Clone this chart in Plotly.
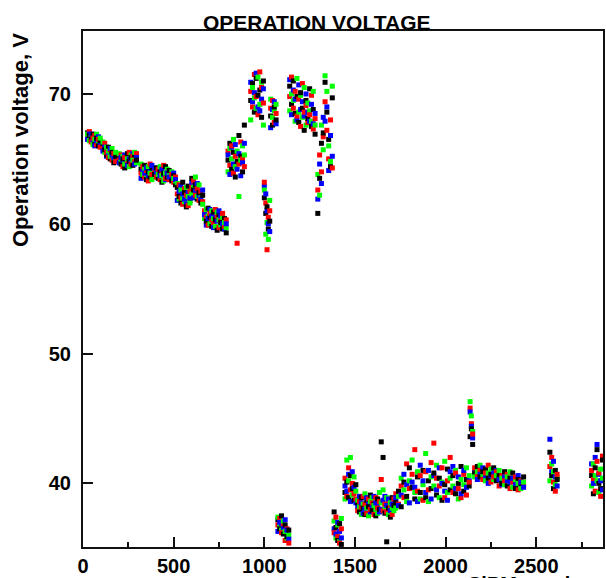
import plotly.graph_objects as go

# SiPM index and measured operation voltage (V) for the four channels
sipm_id = [
    25, 35, 45, 55, 65, 75, 85, 95,
    110, 120, 130, 140, 150, 160, 170, 180,
    200, 210, 220, 230, 245, 255, 265, 275, 285, 295,
    320, 330, 340, 350, 360, 370, 380,
    395, 405, 415, 425, 435, 445, 455, 465, 475, 490, 500, 510,
    520, 530, 540, 550, 560, 570, 580, 590,
    600, 610, 620, 630, 640, 650, 660,
    670, 680, 690, 700, 710, 720, 730, 740, 750, 760, 770, 780, 790,
    800, 810, 820, 830, 840, 850, 860, 870, 880, 890,
    925, 935, 945, 955, 965, 975, 985, 995,
    1000, 1008, 1015, 1022, 1030,
    1035, 1045, 1055, 1065,
    1075, 1085, 1095, 1105, 1115, 1125, 1135,
    1140, 1150, 1160, 1170, 1180, 1190, 1200, 1210, 1220, 1230, 1240, 1250, 1260, 1270, 1280,
    1295, 1305, 1315, 1325, 1335, 1345, 1355, 1365, 1375,
    1385, 1395, 1405, 1415, 1425,
    1445, 1455, 1465, 1475, 1485, 1495, 1505,
    1515, 1525, 1535, 1545, 1555, 1565, 1575, 1585, 1595, 1605, 1615, 1625, 1635, 1645, 1655,
    1665, 1675, 1685, 1695, 1705, 1715,
    1725, 1740, 1755, 1770, 1785, 1800, 1815, 1830, 1845, 1860, 1875, 1890, 1905, 1920,
    1935, 1950, 1965, 1980, 1995, 2010, 2025, 2040, 2055, 2070, 2085, 2100, 2115, 2130,
    2135, 2142, 2149,
    2160, 2175, 2190, 2205, 2220, 2235, 2250, 2265, 2280, 2295, 2310, 2325, 2340, 2355,
    2370, 2385, 2400, 2415, 2430,
    2575, 2585, 2595, 2605, 2615,
    2805, 2815, 2825, 2835, 2845, 2855, 2865,
]

v_black = [
    67.0, 66.8, 66.5, 66.9, 66.2, 66.6, 66.0, 66.4,
    66.1, 65.7, 65.3, 65.9, 65.0, 65.5, 64.7, 65.2,
    65.2, 64.6, 65.0, 64.3, 65.4, 64.8, 65.1, 64.5, 65.3, 64.9,
    64.2, 63.7, 64.5, 63.4, 64.0, 63.6, 64.3,
    63.8, 64.3, 63.5, 64.0, 63.2, 63.9, 64.4, 63.6, 64.1, 63.3, 63.7, 63.0,
    62.8, 62.1, 61.6, 63.2, 62.4, 61.3, 62.9, 61.8,
    63.5, 62.6, 63.0, 61.9, 62.4, 61.6, 62.2,
    60.8, 60.2, 61.2, 60.5, 59.8, 60.9, 60.3, 59.5, 60.7, 60.1, 59.6, 60.4, 59.3,
    64.9, 66.2, 64.2, 65.5, 63.6, 64.8, 66.8, 65.2, 64.0, 67.6,
    69.5, 70.8, 68.6, 71.2, 69.9, 70.3, 68.2, 71.0,
    62.0, 60.8, 61.3, 59.6, 60.2,
    68.3, 67.6, 69.0, 68.0,
    37.2, 36.5, 37.5, 36.1, 36.8, 35.9, 36.4,
    70.6, 69.2, 71.0, 68.5, 69.8, 67.8, 70.1, 68.9, 67.2, 69.5, 68.1, 70.4, 67.5, 68.8, 66.9,
    60.8, 63.5, 66.2, 67.0, 70.9, 68.6, 66.5, 64.4, 69.7,
    37.8, 36.6, 35.6, 36.9, 35.3,
    39.3, 40.1, 38.9, 40.6, 39.6, 38.7, 39.9,
    38.5, 37.8, 38.9, 38.1, 37.6, 38.7, 38.2, 39.1, 37.9, 38.4, 37.5, 38.8, 38.0, 43.2, 42.0,
    37.7, 35.5, 38.1, 37.4, 38.9, 38.3,
    38.6, 39.4, 38.2, 40.1, 39.0, 41.2, 39.7, 38.8, 40.5, 39.3, 41.0, 38.9, 40.2, 39.6,
    40.8, 39.1, 40.4, 38.7, 39.9, 41.1, 39.5, 40.6, 39.2, 40.0, 41.3, 39.4, 40.3, 39.8,
    43.6, 44.2, 43.0,
    40.8, 41.3, 40.5, 40.9, 41.1, 40.4, 40.7, 41.2, 40.2, 40.6, 40.0, 40.9, 39.8, 40.4,
    40.8, 39.6, 40.3, 39.9, 40.5,
    42.4, 40.6, 39.6, 41.0, 40.3,
    40.6, 39.2, 41.2, 42.6, 40.0, 39.6, 41.8,
]

v_red = [
    66.7, 67.1, 66.3, 66.6, 66.8, 66.1, 66.5, 65.9,
    65.8, 66.2, 65.5, 65.1, 65.7, 64.9, 65.4, 64.8,
    64.9, 65.3, 64.4, 65.1, 64.7, 65.5, 64.6, 65.2, 64.8, 65.4,
    63.9, 64.4, 63.6, 64.1, 63.3, 64.6, 63.8,
    64.1, 63.6, 64.2, 63.4, 63.9, 64.5, 63.5, 64.0, 63.4, 63.8, 63.2, 63.6,
    62.3, 63.0, 62.0, 61.5, 62.7, 62.2, 61.4, 62.5,
    62.9, 63.3, 62.2, 62.7, 61.8, 62.5, 61.7,
    61.0, 60.5, 59.9, 60.8, 60.3, 60.0, 61.1, 60.6, 59.7, 60.2, 60.8, 59.8, 60.3,
    65.6, 64.5, 66.0, 63.9, 65.2, 58.5, 64.6, 66.3, 65.0, 64.4,
    70.2, 69.0, 71.5, 69.8, 68.4, 71.7, 70.5, 69.3,
    63.2, 61.6, 58.0, 60.5, 61.0,
    68.9, 69.5, 67.8, 68.5,
    36.8, 37.3, 36.2, 36.9, 35.6, 36.5, 35.4,
    69.8, 71.3, 68.9, 70.2, 68.3, 69.6, 67.5, 70.8, 68.6, 69.1, 67.8, 68.4, 69.9, 67.3, 68.1,
    62.6, 65.3, 64.0, 66.7, 69.4, 67.2, 65.0, 68.0, 64.3,
    36.2, 37.4, 35.9, 35.4, 36.5,
    40.4, 39.0, 41.2, 39.5, 40.0, 39.2, 38.8,
    37.9, 38.6, 38.2, 39.0, 38.4, 37.7, 38.8, 38.0, 38.5, 37.6, 38.9, 38.1, 38.6, 40.3, 37.9,
    38.4, 37.8, 38.7, 38.2, 37.6, 38.8,
    39.2, 38.4, 39.8, 38.9, 41.5, 39.6, 40.7, 42.6, 39.4, 40.6, 38.7, 40.9, 39.5, 41.6,
    43.1, 40.4, 39.8, 41.2, 38.9, 40.2, 42.0, 39.3, 40.8, 39.6, 38.9, 40.7, 39.1, 40.1,
    45.8, 44.6, 43.8,
    41.2, 40.6, 41.0, 40.3, 40.8, 41.4, 40.1, 40.5, 40.9, 39.8, 40.6, 40.2, 40.7, 39.6,
    40.1, 40.5, 39.5, 40.2, 39.8,
    41.3, 42.0, 40.1, 39.4, 40.7,
    41.0, 40.3, 39.4, 41.7, 40.8, 39.0, 42.1,
]

v_green = [
    66.9, 66.4, 66.7, 66.1, 66.5, 66.9, 66.3, 66.6,
    66.3, 65.5, 65.9, 65.6, 65.2, 65.8, 65.0, 65.5,
    65.4, 64.8, 65.2, 64.6, 65.0, 64.4, 65.3, 64.9, 65.5, 64.7,
    64.6, 63.8, 64.2, 63.5, 64.4, 63.9, 63.4,
    63.6, 64.0, 63.8, 64.4, 63.7, 63.3, 63.9, 64.2, 63.7, 64.0, 63.5, 63.3,
    63.1, 61.9, 62.6, 62.0, 61.7, 62.8, 62.1, 61.6,
    62.3, 62.8, 63.6, 62.1, 63.0, 62.0, 61.5,
    60.4, 61.1, 60.6, 60.0, 61.0, 60.4, 59.8, 60.9, 60.3, 59.9, 60.5, 60.1, 59.7,
    64.0, 65.8, 65.0, 66.5, 64.4, 65.6, 62.1, 64.9, 66.0, 65.3,
    68.0, 70.5, 69.7, 68.9, 71.3, 69.2, 70.9, 67.6,
    62.6, 59.2, 60.1, 58.8, 61.8,
    69.6, 68.2, 68.7, 69.2,
    37.4, 36.7, 36.4, 37.1, 36.3, 35.8, 36.0,
    68.7, 70.0, 69.5, 67.9, 71.2, 68.6, 69.9, 68.2, 70.5, 67.6, 69.3, 68.7, 67.9, 70.2, 67.6,
    63.8, 62.2, 67.6, 65.7, 71.4, 70.2, 66.0, 64.8, 70.6,
    37.1, 35.8, 36.8, 35.5, 37.3,
    38.8, 41.8, 40.2, 42.0, 39.1, 40.5, 39.4,
    38.7, 38.2, 37.6, 38.4, 39.2, 38.1, 37.5, 38.6, 38.9, 38.3, 38.0, 37.7, 39.3, 38.5, 39.5,
    38.2, 38.9, 37.6, 38.5, 38.1, 37.9,
    38.1, 39.0, 40.4, 39.5, 38.6, 40.2, 41.8, 39.3, 40.9, 38.8, 39.9, 42.3, 38.6, 40.5,
    39.8, 41.4, 38.9, 40.1, 41.7, 39.3, 40.4, 39.8, 41.0, 38.8, 40.3, 39.9, 41.2, 40.6,
    46.3, 45.2, 44.0,
    40.5, 40.9, 41.4, 40.7, 40.2, 40.8, 41.1, 40.3, 40.6, 41.0, 40.4, 39.9, 40.5, 40.9,
    39.7, 40.3, 40.0, 39.6, 40.1,
    40.2, 41.5, 40.9, 39.9, 40.4,
    39.8, 41.5, 40.6, 40.2, 39.3, 41.1, 40.4,
]

v_blue = [
    66.5, 66.9, 66.9, 66.4, 66.0, 66.4, 66.7, 66.2,
    65.6, 65.9, 65.2, 65.4, 65.8, 65.3, 65.1, 64.9,
    64.7, 65.1, 64.9, 65.3, 64.5, 65.0, 64.8, 65.4, 64.6, 65.1,
    63.5, 64.1, 63.9, 64.3, 63.7, 64.0, 64.5,
    64.3, 63.9, 64.1, 63.7, 64.2, 63.8, 63.4, 63.9, 63.6, 63.5, 63.9, 63.4,
    61.8, 62.5, 62.9, 62.3, 61.9, 61.5, 62.4, 62.0,
    63.2, 62.0, 62.5, 63.1, 62.2, 61.9, 62.6,
    60.7, 59.9, 60.4, 61.1, 60.6, 59.7, 60.5, 60.2, 61.0, 60.6, 60.0, 59.6, 60.0,
    65.3, 63.8, 65.9, 64.6, 66.1, 64.2, 65.4, 63.7, 64.7, 66.2,
    70.9, 69.4, 70.1, 71.6, 69.0, 68.7, 69.6, 70.4,
    62.9, 62.3, 61.0, 60.0, 59.4,
    67.4, 68.8, 69.4, 67.7,
    36.3, 37.0, 36.9, 36.6, 37.2, 36.4, 35.7,
    71.1, 68.4, 70.3, 69.6, 68.0, 70.7, 68.8, 69.4, 68.3, 70.0, 68.6, 67.9, 69.2, 67.7, 68.5,
    61.9, 64.6, 63.1, 68.2, 67.9, 69.0, 64.1, 66.8, 65.2,
    36.5, 36.1, 37.0, 36.3, 35.8,
    39.8, 39.4, 40.7, 38.6, 40.9, 39.7, 38.5,
    38.2, 39.0, 38.5, 37.7, 38.0, 38.9, 38.4, 37.8, 38.3, 39.0, 38.5, 38.3, 37.8, 38.0, 38.7,
    39.0, 38.3, 38.8, 37.9, 38.4, 38.6,
    38.9, 38.3, 39.1, 40.7, 39.9, 38.5, 40.1, 39.7, 38.6, 41.4, 40.2, 39.3, 41.0, 38.8,
    40.6, 39.5, 41.2, 40.0, 39.4, 38.7, 40.9, 41.3, 39.6, 40.5, 39.2, 41.0, 39.7, 40.2,
    45.5, 44.4, 43.5,
    40.9, 40.3, 40.7, 41.2, 40.5, 40.0, 40.6, 40.8, 41.0, 40.3, 39.9, 40.5, 40.2, 40.1,
    40.4, 39.9, 40.6, 40.1, 39.7,
    43.4, 40.9, 41.7, 40.5, 39.8,
    41.5, 40.0, 42.0, 43.0, 40.7, 40.2, 39.5,
]

channel_values = [v_black, v_red, v_green, v_blue]
channel_colors = ["#000000", "#ff0000", "#00ff00", "#0000ff"]

x_ticks = [0, 500, 1000, 1500, 2000, 2500]
y_ticks = [40, 50, 60, 70]

FONT = "Liberation Sans, Arial, Helvetica, sans-serif"

# Interleave the four channels SiPM by SiPM (rotating the channel order)
# so that no single colour is always painted on top.
xs, ys, cs = [], [], []
for i, sid in enumerate(sipm_id):
    for k in range(4):
        ch = (i + k) % 4
        xs.append(sid)
        ys.append(channel_values[ch][i])
        cs.append(channel_colors[ch])

fig = go.Figure()
fig.add_trace(go.Scatter(
    x=xs, y=ys, mode="markers",
    marker=dict(symbol="square", size=5, color=cs, line=dict(width=0)),
    showlegend=False, hoverinfo="x+y",
))

axis_common = dict(
    showline=True, linecolor="#111111", linewidth=2, mirror=True,
    showgrid=False, zeroline=False, ticks="inside", tickcolor="#111111",
    tickwidth=2, ticklen=10,
    tickfont=dict(family=FONT, size=20, color="#000000", weight="bold"),
)

fig.update_xaxes(
    range=[0, 2868], tickvals=x_ticks, ticktext=[str(v) for v in x_ticks],
    minor=dict(ticks="inside", dtick=250, tick0=0, ticklen=5, tickwidth=2, tickcolor="#111111"),
    **axis_common,
)
fig.update_yaxes(
    range=[35.1, 74.85], tickvals=y_ticks, ticktext=[str(v) for v in y_ticks],
    ticklabelstandoff=6,
    **axis_common,
)

fig.update_layout(
    width=606, height=578,
    margin=dict(l=83, r=1, t=31, b=31),
    paper_bgcolor="white", plot_bgcolor="white",
    annotations=[
        dict(text="OPERATION VOLTAGE", xref="paper", yref="paper", x=0.45, y=1.0,
             xanchor="center", yanchor="bottom", showarrow=False, yshift=-5,
             font=dict(family=FONT, size=21, color="#000000", weight="bold")),
        dict(text="Operation voltage, V", xref="paper", yref="paper", x=-0.121, y=1.0,
             xanchor="center", yanchor="top", textangle=-90, showarrow=False,
             font=dict(family=FONT, size=22, color="#000000", weight="bold")),
        dict(text="SiPM number", xref="paper", yref="paper", x=0.99, y=-0.046,
             xanchor="right", yanchor="top", showarrow=False,
             font=dict(family=FONT, size=20, color="#000000", weight="bold")),
    ],
)

fig.write_html("out.html")
